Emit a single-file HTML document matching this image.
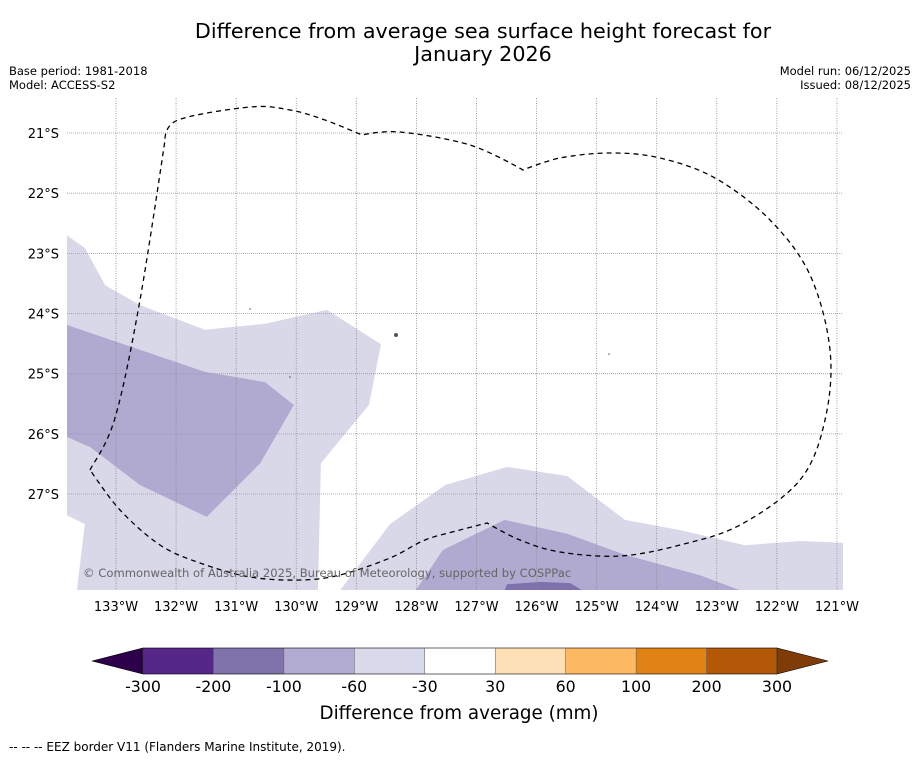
<!DOCTYPE html>
<html><head><meta charset="utf-8"><style>
body{margin:0;background:#fff;width:919px;height:758px;overflow:hidden;font-family:"DejaVu Sans","Liberation Sans",sans-serif}
</style></head><body>
<svg id="s" width="919" height="758" xmlns="http://www.w3.org/2000/svg" font-family="DejaVu Sans, Liberation Sans, sans-serif">
<text x="483" y="38" font-size="20.7" text-anchor="middle">Difference from average sea surface height forecast for</text>
<text x="483" y="61" font-size="20.7" text-anchor="middle">January 2026</text>
<text x="9" y="75" font-size="11.5">Base period: 1981-2018</text>
<text x="9" y="89" font-size="11.5">Model: ACCESS-S2</text>
<text x="911" y="75" font-size="11.5" text-anchor="end">Model run: 06/12/2025</text>
<text x="911" y="89" font-size="11.5" text-anchor="end">Issued: 08/12/2025</text>
<g id="map"></g>
<g id="cb"></g>
<text x="459" y="719" font-size="18.3" text-anchor="middle">Difference from average (mm)</text>
<text x="9" y="751" font-size="12">--  --  -- EEZ border V11 (Flanders Marine Institute, 2019).</text>
</svg>
<script>
const lonTicks=[-133,-132,-131,-130,-129,-128,-127,-126,-125,-124,-123,-122,-121];
const latTicks=[-21,-22,-23,-24,-25,-26,-27];
const levels=["-300","-200","-100","-60","-30","30","60","100","200","300"];
const cbColors=["#2d004b","#542788","#8073ac","#b2abd2","#d8daeb","#ffffff","#fee0b6","#fdb863","#e08214","#b35806","#7f3b08"];
const lightA=[[-133.82,-22.70],[-133.52,-22.91],[-133.18,-23.53],[-132.60,-23.86],[-131.52,-24.27],[-130.52,-24.17],[-129.49,-23.94],[-128.59,-24.51],[-128.79,-25.52],[-129.59,-26.49],[-129.64,-28.60],[-133.65,-28.60],[-133.52,-27.50],[-133.82,-27.35]];
const lightB=[[-129.27,-28.60],[-128.44,-27.50],[-127.52,-26.85],[-126.49,-26.55],[-125.49,-26.70],[-124.53,-27.43],[-123.61,-27.60],[-122.53,-27.85],[-121.62,-27.78],[-120.90,-27.81],[-120.90,-28.60]];
const midA=[[-133.82,-24.19],[-131.52,-24.97],[-130.52,-25.14],[-130.04,-25.52],[-130.60,-26.49],[-131.49,-27.38],[-132.60,-26.85],[-133.43,-26.22],[-133.82,-26.05]];
const midB=[[-128.01,-28.60],[-127.56,-27.93],[-126.53,-27.43],[-125.49,-27.66],[-124.53,-28.01],[-123.28,-28.35],[-122.61,-28.60]];
const darkA=[[-126.53,-28.60],[-126.49,-28.50],[-125.94,-28.46],[-125.44,-28.48],[-125.24,-28.60]];
const X=lon=>116+(lon+133)*60.08, Y=lat=>133+(-21-lat)*60.17;
const NS="http://www.w3.org/2000/svg";
const map=document.getElementById('map'), cb=document.getElementById('cb');
function mk(tag,at,parent){const e=document.createElementNS(NS,tag);for(const k in at)e.setAttribute(k,at[k]);parent.appendChild(e);return e;}
const clip=mk('clipPath',{id:'mc'},map);mk('rect',{x:67,y:98,width:776,height:492},clip);
const g=mk('g',{'clip-path':'url(#mc)'},map);
function poly(pts,fill,name){const p=mk('polygon',{points:pts.map(q=>X(q[0]).toFixed(1)+','+Y(q[1]).toFixed(1)).join(' '),fill:fill},g);

}
poly(lightA,'#d8d8e9','anomaly-region-light-west');
poly(lightB,'#d8d8e9','anomaly-region-light-south');
poly(midA,'#b0a9d0','anomaly-region-mid-west');
poly(midB,'#b0a9d0','anomaly-region-mid-south');
poly(darkA,'#7f72ac','anomaly-region-dark-south');
lonTicks.forEach(l=>{const x=X(l);
const ln=mk('line',{x1:x,x2:x,y1:98,y2:590,stroke:'#888','stroke-width':0.8,'stroke-dasharray':'1,1.5'},map);


const t=mk('text',{x:x,y:611,'font-size':13,'text-anchor':'middle'},map);t.textContent=Math.abs(l)+'°W';

});
latTicks.forEach(l=>{const y=Y(l);
const ln=mk('line',{x1:67,x2:843,y1:y,y2:y,stroke:'#999','stroke-width':0.8,'stroke-dasharray':'1,1'},map);


const t=mk('text',{x:59,y:y+5,'font-size':13,'text-anchor':'end'},map);t.textContent=Math.abs(l)+'°S';

});
const eez=[[90,470],[115,418],[140,300],[165,140],[178,120],[250,107],[290,110],[325,120],[362,135],[400,132],[470,145],[523,170],[560,158],[610,153],[660,158],[715,178],[770,220],[810,275],[830,350],[825,420],[800,480],[740,525],[680,545],[620,556],[560,552],[520,540],[487,523],[460,530],[425,540],[390,558],[340,575],[300,580],[250,577],[200,563],[160,545],[120,510],[90,470]];
const sharp=new Set([3,8,11,26]);
let d='M'+eez[0].join(',');
for(let i=0;i<eez.length-1;i++){const p0=eez[Math.max(i-1,0)],p1=eez[i],p2=eez[i+1],p3=eez[Math.min(i+2,eez.length-1)];
const t1=sharp.has(i)?0:1/6,t2=sharp.has(i+1)?0:1/6;
d+=` C${(p1[0]+(p2[0]-p0[0])*t1).toFixed(1)},${(p1[1]+(p2[1]-p0[1])*t1).toFixed(1)} ${(p2[0]-(p3[0]-p1[0])*t2).toFixed(1)},${(p2[1]-(p3[1]-p1[1])*t2).toFixed(1)} ${p2[0]},${p2[1]}`;}
const e=mk('path',{d:d,fill:'none',stroke:'#000','stroke-width':1.3,'stroke-dasharray':'5,4'},map);


[[250,309],[396,335],[290,377],[609,354]].forEach(p=>{const c=mk('circle',{cx:p[0],cy:p[1],r:p[0]==396?2:0.8,fill:'#555'},map);

});
const cr=mk('text',{x:83,y:577,'font-size':11.6,fill:'#666'},map);cr.textContent='© Commonwealth of Australia 2025, Bureau of Meteorology, supported by COSPPac';


const x0=143,x1=777,w=(x1-x0)/(levels.length-1),yt=648,yb=674;
const lt=mk('polygon',{points:`${x0},${yt} ${x0},${yb} 92,661`,fill:cbColors[0],stroke:'#000','stroke-width':0.6},cb);


const rt=mk('polygon',{points:`${x1},${yt} ${x1},${yb} 828,661`,fill:cbColors[10],stroke:'#000','stroke-width':0.6},cb);


for(let i=0;i<levels.length-1;i++){const r=mk('rect',{x:x0+i*w,y:yt,width:w,height:yb-yt,fill:cbColors[i+1]},cb);

}
mk('rect',{x:x0,y:yt,width:x1-x0,height:yb-yt,fill:'none',stroke:'#000','stroke-width':0.6},cb);
levels.forEach((lv,i)=>{const x=x0+i*w;mk('line',{x1:x,x2:x,y1:yt,y2:yb,stroke:'#555','stroke-width':0.5},cb);
const t=mk('text',{x:x,y:692,'font-size':15.8,'text-anchor':'middle'},cb);t.textContent=lv;

});
</script>
</body></html>
